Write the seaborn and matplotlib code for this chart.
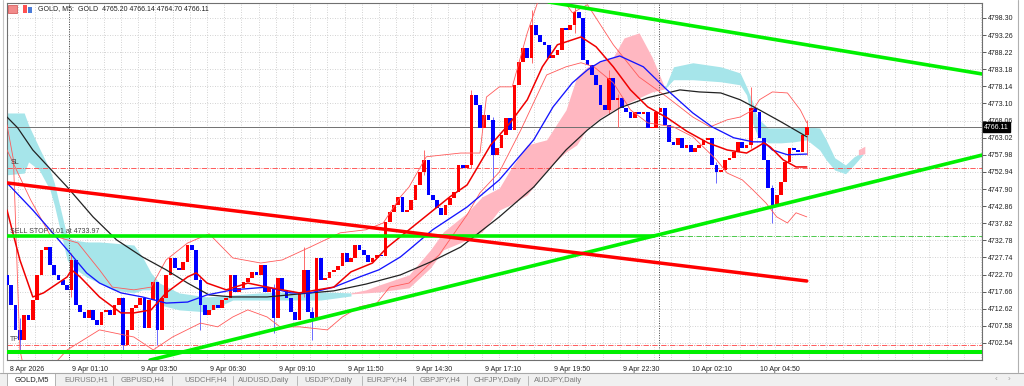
import numpy as np
import pandas as pd
import matplotlib
matplotlib.use("Agg")
import matplotlib.pyplot as plt
from matplotlib import transforms
from matplotlib.patches import Rectangle
from matplotlib.lines import Line2D
import seaborn as sns

# GOLD M5, closes every 2 bars (open = previous close)
first_open = 4722.6
closes = [
    4719.6, 4713.8, 4706.4, 4703.4, 4710.8, 4709.3, 4715.2, 4722.6, 4730.0, 4730.8,
    4725.5, 4722.6, 4721.1, 4719.6, 4718.2, 4727.0, 4713.8, 4711.7, 4709.9, 4712.3,
    4709.3, 4707.9, 4711.7, 4712.3, 4710.8, 4713.8, 4715.8, 4702.0, 4706.4, 4712.9,
    4713.8, 4715.8, 4707.0, 4715.2, 4720.5, 4706.4, 4715.8, 4722.6, 4727.6, 4724.7,
    4724.1, 4726.4, 4731.4, 4730.0, 4721.1, 4713.8, 4710.8, 4712.3, 4713.8, 4712.9,
    4715.2, 4715.8, 4722.6, 4717.6, 4718.8, 4720.5, 4721.7, 4723.5, 4722.6, 4725.5,
    4717.6, 4718.8, 4709.9, 4721.7, 4718.2, 4715.8, 4711.7, 4709.3, 4717.6, 4724.1,
    4711.7, 4709.9, 4727.6, 4721.1, 4721.7, 4723.5, 4724.1, 4725.2, 4729.1, 4726.4,
    4727.6, 4731.4, 4730.0, 4728.5, 4726.4, 4727.6, 4728.5, 4728.2, 4738.2, 4741.2,
    4743.2, 4745.6, 4741.2, 4741.7, 4744.7, 4749.1, 4752.9, 4756.5, 4746.2, 4744.7,
    4742.3, 4740.3, 4743.2, 4745.3, 4747.1, 4755.0, 4754.1, 4755.0, 4775.6, 4772.7,
    4765.9, 4769.7, 4768.3, 4758.0, 4760.0, 4763.8, 4768.9, 4765.3, 4778.6, 4785.4,
    4789.5, 4786.5, 4796.3, 4793.3, 4791.3, 4790.4, 4786.5, 4787.4, 4788.9, 4795.4,
    4794.8, 4796.3, 4800.1, 4798.3, 4786.0, 4784.5, 4781.5, 4778.6, 4772.7, 4771.2,
    4780.6, 4774.2, 4774.8, 4771.8, 4770.6, 4768.9, 4770.6, 4770.0, 4770.6, 4765.9,
    4765.9, 4770.6, 4771.8, 4766.8, 4761.8, 4760.9, 4763.0, 4760.0, 4760.9, 4758.8,
    4760.0, 4760.9, 4762.4, 4763.0, 4755.0, 4752.9, 4753.5, 4756.5, 4757.1, 4758.8,
    4761.8, 4760.0, 4760.9, 4771.8, 4770.6, 4763.0, 4756.5, 4748.2, 4743.2, 4746.2,
    4750.0, 4755.9, 4760.0, 4759.4, 4758.8, 4763.8, 4766.11,
]

# the long wicks (candle number, low, high)
wick_k = [3, 15, 27, 35, 45, 62, 69, 71, 97, 108, 113, 122, 132, 140, 142, 165, 173, 178, 186]
wick_lo = [4700.5, 4716.0, 4699.6, 4702.0, 4706.4, 4705.5, 4716.0, 4703.4, 4752.0, 4754.0,
           4747.6, 4785.0, 4794.0, 4770.0, 4766.2, 4749.7, 4760.0, 4737.9, 4758.0]
wick_hi = [4710.0, 4729.1, 4716.0, 4720.0, 4722.0, 4720.0, 4730.8, 4713.0, 4759.4, 4777.1,
           4769.0, 4800.7, 4801.5, 4783.0, 4776.0, 4756.0, 4778.0, 4749.0, 4768.3]

# moving averages (bar, price)
ma_fast_bar = [0, 6, 12, 17, 28, 30, 34, 43, 53, 59, 67, 74, 84, 88, 93, 102, 112, 121, 136, 152,
               160, 170, 177, 187, 206, 214, 225, 234, 242, 249, 256, 267, 274, 282, 290, 298,
               307, 316, 326, 335, 344, 349, 352, 355, 361, 367, 372]
ma_fast = [4741.7, 4727.0, 4716.1, 4717.3, 4722.0, 4724.1, 4722.0, 4716.1, 4711.4, 4711.4,
           4712.3, 4717.3, 4722.0, 4723.2, 4720.2, 4718.2, 4720.2, 4719.0, 4717.3, 4719.0,
           4723.5, 4726.1, 4730.8, 4735.9, 4745.6, 4749.1, 4760.9, 4767.4, 4774.2, 4783.9,
           4790.4, 4792.7, 4789.8, 4783.9, 4777.1, 4772.1, 4768.9, 4765.0, 4761.5, 4759.4,
           4758.5, 4760.3, 4761.5, 4760.3, 4756.5, 4754.4, 4754.4]
ma_mid_bar = [0, 12, 20, 28, 37, 43, 53, 63, 74, 84, 93, 105, 121, 132, 141, 152, 164, 173, 183,
              187, 198, 214, 229, 245, 254, 263, 270, 276, 285, 296, 307, 319, 328, 338, 347,
              352, 356, 363, 372]
ma_mid = [4749.7, 4741.7, 4735.9, 4730.0, 4723.2, 4720.2, 4717.3, 4716.1, 4714.3, 4714.6,
          4716.7, 4718.2, 4719.0, 4717.3, 4717.3, 4719.0, 4722.0, 4724.1, 4727.9, 4730.0,
          4735.9, 4742.6, 4750.6, 4762.4, 4772.1, 4779.2, 4783.0, 4785.4, 4787.1, 4783.9,
          4777.1, 4770.3, 4766.2, 4763.0, 4761.8, 4761.8, 4759.4, 4758.0, 4758.2]
ma_slow_bar = [0, 5, 12, 28, 40, 51, 63, 74, 84, 94, 105, 121, 136, 152, 167, 183, 197, 211,
               229, 245, 260, 270, 276, 285, 298, 313, 322, 332, 341, 350, 360, 369, 372]
ma_slow = [4769.1, 4765.9, 4759.4, 4748.5, 4739.7, 4732.9, 4727.9, 4724.1, 4720.2, 4716.7,
           4716.1, 4716.1, 4717.0, 4717.9, 4719.9, 4722.6, 4726.4, 4730.8, 4739.7, 4748.5,
           4759.4, 4765.3, 4768.3, 4771.8, 4774.8, 4777.1, 4776.5, 4776.2, 4774.2, 4771.2,
           4767.7, 4764.4, 4763.3]

# bollinger bands
bb_up_bar = [0, 11, 20, 33, 43, 49, 59, 67, 74, 84, 94, 105, 118, 128, 141, 155, 167, 175, 183,
             187, 195, 211, 220, 223, 229, 235, 242, 248, 257, 263, 270, 282, 294, 307, 319,
             327, 335, 341, 347, 350, 356, 363, 369, 372]
bb_up = [4759.4, 4744.7, 4734.4, 4732.0, 4724.1, 4719.0, 4718.2, 4719.0, 4727.0, 4732.0,
         4734.7, 4727.6, 4726.1, 4727.0, 4730.8, 4735.0, 4735.9, 4737.9, 4745.6, 4748.5,
         4757.4, 4758.5, 4758.5, 4775.0, 4778.0, 4778.0, 4793.9, 4805.1, 4805.1, 4799.8,
         4802.2, 4790.4, 4780.9, 4775.0, 4769.1, 4766.2, 4768.3, 4769.1, 4771.2, 4774.2,
         4776.5, 4776.2, 4771.2, 4767.4]
bb_lo_bar = [0, 3, 6, 9, 15, 28, 43, 59, 68, 77, 90, 98, 105, 112, 121, 127, 136, 149, 156, 164,
             172, 178, 187, 201, 214, 220, 229, 239, 251, 260, 267, 273, 282, 290, 298, 310,
             319, 330, 335, 342, 347, 353, 358, 363, 367, 372]
bb_lo = [4766.8, 4756.5, 4700.5, 4691.6, 4691.6, 4700.5, 4706.4, 4704.3, 4700.5, 4704.3,
         4708.4, 4707.3, 4710.2, 4712.3, 4710.2, 4707.3, 4707.3, 4706.4, 4710.2, 4713.2,
         4714.3, 4719.0, 4720.2, 4728.5, 4740.3, 4746.8, 4752.9, 4765.3, 4781.5, 4783.9,
         4785.1, 4783.9, 4779.2, 4771.2, 4767.4, 4766.2, 4763.3, 4756.5, 4752.6, 4750.6,
         4747.6, 4743.8, 4739.7, 4737.9, 4740.9, 4739.7]

# ichimoku cloud pieces
cyan1_bar = [0, 8, 10, 15, 20, 22, 28, 31, 37, 43, 49, 59, 63, 67, 71, 80, 93, 105, 118, 132, 146, 160]
cyan1_top = [4770.3, 4770.3, 4766.8, 4760.0, 4753.5, 4749.7, 4733.8, 4732.9, 4732.3, 4732.3,
             4732.0, 4731.4, 4727.9, 4723.2, 4720.2, 4717.3, 4716.1, 4716.7, 4717.3, 4717.6,
             4717.6, 4717.3]
cyan1_bot = [4752.1, 4752.6, 4755.9, 4753.5, 4747.6, 4743.2, 4727.0, 4724.7, 4722.0, 4720.2,
             4718.2, 4717.3, 4718.2, 4718.2, 4713.8, 4712.3, 4711.7, 4715.2, 4715.2, 4715.2,
             4715.2, 4716.4]
pink1_bar = [160, 167, 173, 187, 197, 203, 214, 221, 229, 234, 242, 251, 257, 260, 265, 270,
             276, 282, 287, 294, 300, 306]
pink1_top = [4717.3, 4718.2, 4719.6, 4722.6, 4730.0, 4735.3, 4740.9, 4745.6, 4748.2, 4753.5,
             4760.9, 4762.4, 4768.3, 4771.2, 4780.9, 4783.9, 4785.4, 4786.8, 4792.4, 4793.9,
             4786.8, 4777.7]
pink1_bot = [4717.0, 4717.3, 4717.6, 4718.8, 4724.7, 4730.0, 4732.9, 4735.3, 4741.7, 4743.2,
             4746.2, 4753.5, 4757.1, 4758.8, 4760.9, 4765.9, 4768.9, 4771.2, 4772.7, 4774.8,
             4776.5, 4777.4]
cyan2_bar = [306, 310, 319, 332, 341, 344, 347, 349, 354, 360, 366, 372, 378, 381, 385, 390, 394, 398]
cyan2_top = [4777.7, 4783.9, 4785.1, 4783.9, 4782.1, 4778.0, 4773.3, 4768.9, 4765.9, 4765.9,
             4765.9, 4766.2, 4765.9, 4762.4, 4757.1, 4755.0, 4757.4, 4758.8]
cyan2_bot = [4777.4, 4780.1, 4780.1, 4779.5, 4778.6, 4775.6, 4766.8, 4763.8, 4761.5, 4761.5,
             4761.8, 4762.4, 4759.4, 4756.5, 4753.5, 4752.4, 4755.0, 4757.9]
pink2_bar = [396, 399]
pink2_top = [4759.5, 4760.5]
pink2_bot = [4757.9, 4758.3]

# drawn objects
green_down_bar, green_down = [252, 453.5], [4803.0, 4781.8]
green_up_bar, green_up = [66.5, 453.5], [4697.5, 4757.9]
red_down_bar, red_down = [0, 372], [4749.7, 4720.8]
sell_stop_bar = [0, 301]
sell_stop = 4733.97
green_floor = 4699.9
sl_level = 4754.1
tp_level = 4702.0
last_price = 4766.11
separators = [28.8, 303.3]

y_ticks = [4702.54, 4707.58, 4712.62, 4717.66, 4722.70, 4727.74, 4732.78, 4737.82, 4742.86,
           4747.90, 4752.94, 4757.98, 4763.02, 4768.06, 4773.10, 4778.14, 4783.18, 4788.22,
           4793.26, 4798.30]
x_tick_bars = [0, 29, 61, 93, 125, 157, 189, 221, 253, 285, 317, 349]
x_tick_labels = ['8 Apr 2026', '9 Apr 01:10', '9 Apr 03:50', '9 Apr 06:30', '9 Apr 09:10',
                 '9 Apr 11:50', '9 Apr 14:30', '9 Apr 17:10', '9 Apr 19:50', '9 Apr 22:30',
                 '10 Apr 02:10', '10 Apr 04:50']
tabs = ['GOLD,M5', 'EURUSD,H1', 'GBPUSD,H4', 'USDCHF,H4', 'AUDUSD,Daily', 'USDJPY,Daily',
        'EURJPY,H4', 'GBPJPY,H4', 'CHFJPY,Daily', 'AUDJPY,Daily']

sns.set_style("white")
plt.rcParams['font.family'] = ['Liberation Sans', 'DejaVu Sans']

W, H = 1024, 386
fig = plt.figure(figsize=(W / 100, H / 100), dpi=100)


def fx(px):
    return px / W


def fy(py):
    return 1 - py / H


ax = fig.add_axes([fx(7), fy(360), (982 - 7) / W, (360 - 3) / H])
ax.set_xlim(0, 453.5)
ax.set_ylim(4697.53, 4802.7)

# cloud
ax.fill_between(cyan1_bar, cyan1_bot, cyan1_top, color='#a6e5ea', lw=0, zorder=1)
ax.fill_between(pink1_bar, pink1_bot, pink1_top, color='#ffb7c1', lw=0, zorder=1)
ax.fill_between(cyan2_bar, cyan2_bot, cyan2_top, color='#a6e5ea', lw=0, zorder=1)
ax.fill_between(pink2_bar, pink2_bot, pink2_top, color='#ffb7c1', lw=0, zorder=1)

# candles
df = pd.DataFrame({'close': closes})
df['open'] = df['close'].shift(1).fillna(first_open)
df['bar'] = df.index * 2
df['up'] = df['close'] >= df['open']
body_col = np.where(df['up'], '#ff0000', '#0000ff')
ax.bar(df['bar'], (df['close'] - df['open']).abs().clip(lower=0.3),
       bottom=df[['open', 'close']].min(axis=1), width=1.7, color=body_col, lw=0, zorder=3)
wk = df.loc[wick_k]
ax.vlines(wk['bar'], wick_lo, wick_hi, colors=np.where(wk['up'], '#ff6a6a', '#6a6aff'),
          lw=0.7, zorder=2.9)


def line(xs, ys, color, lw, z):
    sns.lineplot(x=xs, y=ys, ax=ax, color=color, linewidth=lw, sort=False,
                 estimator=None, legend=False, zorder=z)


line(bb_up_bar, bb_up, '#ff5a5a', 0.6, 4)
line(bb_lo_bar, bb_lo, '#ff5a5a', 0.6, 4)
line(ma_slow_bar, ma_slow, '#222222', 0.9, 4)
line(ma_mid_bar, ma_mid, '#1414ff', 0.95, 4)
line(ma_fast_bar, ma_fast, '#f00000', 1.1, 4)

# levels and trend lines
ax.axhline(last_price, color='#707070', lw=0.7, zorder=2)
ax.axhline(sl_level, color='#ff4040', lw=0.6, ls='-.', zorder=2)
ax.axhline(tp_level, color='#ff4040', lw=0.6, ls='-.', zorder=2)
ax.axhline(sell_stop, color='#30c030', lw=0.6, ls='-.', zorder=2)
ax.axhline(green_floor, color='#00f000', lw=2.9, zorder=5)
ax.plot(sell_stop_bar, [sell_stop, sell_stop], color='#00f000', lw=2.6, zorder=5)
ax.plot(green_down_bar, green_down, color='#00f000', lw=2.6, zorder=5)
ax.plot(green_up_bar, green_up, color='#00f000', lw=2.6, zorder=5)
ax.plot(red_down_bar, red_down, color='#ff0000', lw=2.5, zorder=5)
for s in separators:
    ax.axvline(s, color='#404040', lw=0.7, ls=(0, (1, 1.5)), zorder=2)

lab = dict(fontsize=5, color='#404040', ha='left', va='bottom', zorder=6)
ax.text(1.5, sl_level + 0.5, 'SL', **lab)
ax.text(1.5, sell_stop + 0.5, 'SELL STOP 0.01 at 4733.97', **lab)
ax.text(1.5, tp_level + 0.5, 'TP', **lab)

# axes
ax.yaxis.tick_right()
ax.set_yticks(y_ticks)
ax.set_yticklabels([f"{v:.2f}" for v in y_ticks])
ax.set_xticks(x_tick_bars)
ax.set_xticklabels(x_tick_labels, ha='left')
ax.set_xticks(np.arange(5, 454, 8), minor=True)
ax.xaxis.remove_overlapping_locs = False
ax.tick_params(axis='both', which='major', direction='out', length=3, width=0.6,
               color='#404040', labelsize=5, labelcolor='#202020', pad=1)
ax.tick_params(axis='x', which='minor', length=0)
ax.grid(axis='y', which='major', ls=(0, (1, 2)), color='#c4c4c4', lw=0.6)
ax.grid(axis='x', which='minor', ls=(0, (1, 2)), color='#c4c4c4', lw=0.6)
ax.grid(axis='x', which='major', visible=False)
ax.set_axisbelow(True)
ax.set_xlabel('')
ax.set_ylabel('')
for lbl in ax.get_xticklabels():
    lbl.set_transform(lbl.get_transform() + transforms.ScaledTranslation(0.03, 0, fig.dpi_scale_trans))
for sp in ax.spines.values():
    sp.set_color('#707070')
    sp.set_linewidth(0.8)

trans = transforms.blended_transform_factory(ax.transAxes, ax.transData)
ax.text(1.002, last_price, f"{last_price:.2f}", transform=trans, ha='left', va='center',
        fontsize=5, color='white', clip_on=False, zorder=10,
        bbox=dict(boxstyle='square,pad=0.2', fc='black', ec='black'))

# window chrome: title, tab bar
fig.add_artist(Rectangle((fx(8), fy(13)), 9 / W, 8 / H, transform=fig.transFigure,
                         fc='#f28b8b', ec='#d04a4a', lw=0.5))
fig.add_artist(Rectangle((fx(23), fy(13)), 4 / W, 8 / H, transform=fig.transFigure,
                         fc='#ff5050', ec='none'))
fig.add_artist(Rectangle((fx(28), fy(13)), 4 / W, 6 / H, transform=fig.transFigure,
                         fc='#4a7bd8', ec='none'))
fig.text(fx(38), fy(9), 'GOLD, M5:  GOLD  4765.20 4766.14 4764.70 4766.11',
         fontsize=5, color='#202020', va='center', ha='left')

fig.add_artist(Rectangle((0, 0), 1, fy(373), transform=fig.transFigure, fc='#f0f0f0', ec='none'))
fig.add_artist(Line2D([0, 1], [fy(372.5)] * 2, transform=fig.transFigure, color='#a8a8a8', lw=0.8))
fig.add_artist(Line2D([fx(1018)] * 2, [fy(0), fy(372)], transform=fig.transFigure, color='#b0b0b0', lw=0.8))
fig.add_artist(Line2D([fx(2.5)] * 2, [fy(0), fy(372)], transform=fig.transFigure, color='#c8c8c8', lw=0.8))
fig.add_artist(Rectangle((fx(7), 0), 48 / W, fy(372.5), transform=fig.transFigure,
                         fc='white', ec='#a8a8a8', lw=0.6))

tab_mid = [32, 86, 143, 206, 264, 328, 387, 440, 497, 558]
tab_sep = [113, 172, 233, 297, 362, 413, 467, 528]
for name, cx in zip(tabs, tab_mid):
    fig.text(fx(cx), fy(380), name, fontsize=5.5, ha='center', va='center',
             color='#202020' if name == 'GOLD,M5' else '#7a7a7a')
for sx in tab_sep:
    fig.add_artist(Line2D([fx(sx)] * 2, [fy(376), fy(385)], transform=fig.transFigure,
                          color='#b8b8b8', lw=0.7))
fig.text(fx(996), fy(379), '\u2039', fontsize=6, color='#a0a0a0', ha='center', va='center')
fig.text(fx(1009), fy(379), '\u203a', fontsize=6, color='#a0a0a0', ha='center', va='center')

fig.savefig('out.png', dpi=100)
